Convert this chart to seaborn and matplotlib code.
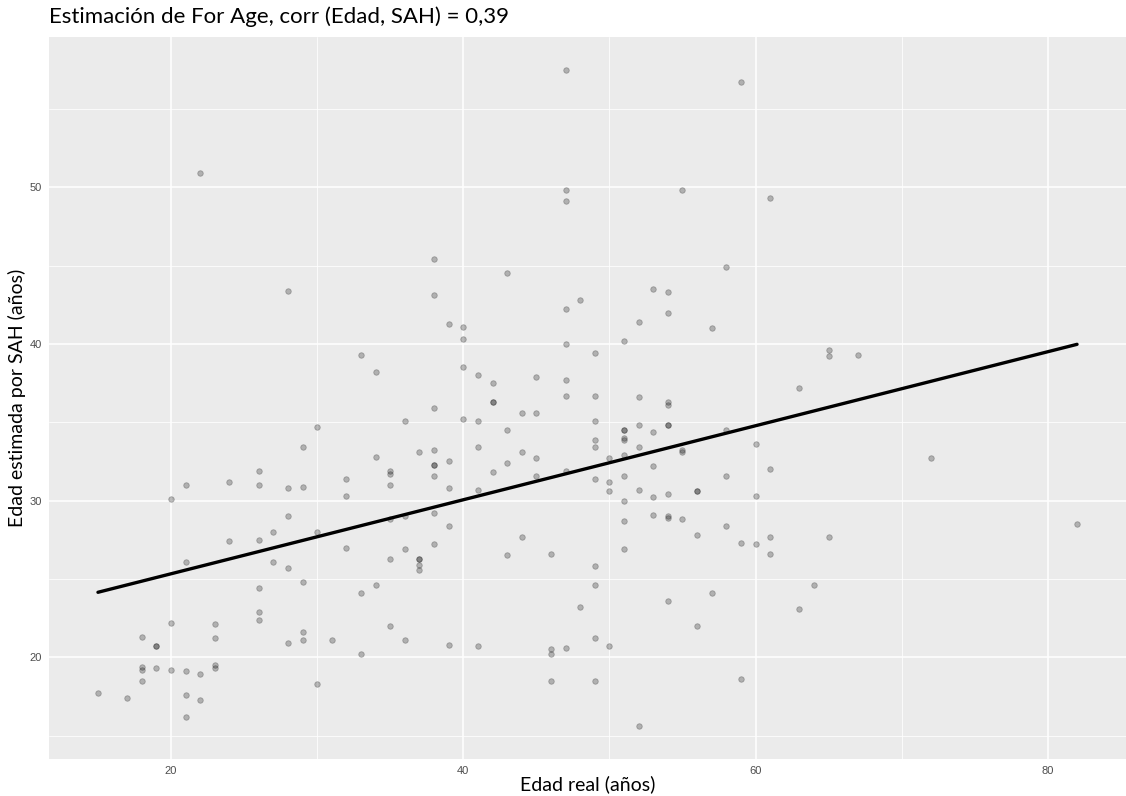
import matplotlib
matplotlib.use("Agg")
import pandas as pd
import matplotlib.pyplot as plt
import seaborn as sns
from matplotlib.ticker import MultipleLocator

# Edad real (años) and estimated age from SAH
edad_real = [
    30, 29, 26, 21, 24, 26, 28, 29, 20, 28, 27, 30, 24, 26, 21, 27, 28, 29, 26, 26,
    26, 20, 23, 18, 19, 19, 23, 29, 29, 28, 31, 18, 18, 19, 20, 21, 22, 23, 23, 18,
    30, 15, 17, 21, 22, 21,
    22, 28,
    38, 43, 38, 39, 40, 40, 33, 34, 40, 41, 42, 45, 42, 42, 44, 45, 38, 36, 40, 41,
    43, 34, 37, 38, 41, 44, 38, 38, 39, 43, 45, 35, 35, 38, 42, 45, 32,
    35, 39, 41, 32, 35, 36, 38, 39, 44, 32, 38, 36, 35, 37, 37, 37, 37, 43, 46, 34,
    33, 35, 36, 39, 41, 33, 46, 46, 46,
    58, 53, 54, 48, 47, 54, 52, 57, 51, 47, 49, 47, 47, 49, 52, 54, 54, 49, 51, 51,
    52, 54, 54, 53, 58, 49, 51, 51, 49, 52, 55, 55, 60, 50, 51, 53, 47, 49, 51, 58,
    61,
    50, 50, 52, 51, 53, 54, 56, 56, 60, 53, 54, 54, 55, 51, 58, 56, 59, 60, 61, 61,
    51, 49, 49, 57, 48, 54, 56, 49, 50, 47, 49, 59, 52,
    47, 59, 47, 47, 55, 61,
    65, 65, 67, 63, 72, 82, 65, 64, 63,
]
edad_sah = [
    34.7, 33.4, 31.9, 31.0, 31.2, 31.0, 30.8, 30.9, 30.1, 29.0, 28.0, 28.0, 27.4, 27.5,
    26.1, 26.1, 25.7, 24.8, 24.4, 22.9, 22.4, 22.2, 22.1, 21.3, 20.7, 20.7, 21.2, 21.6,
    21.1, 20.9, 21.1, 19.4, 19.2, 19.3, 19.2, 19.1, 18.9, 19.5, 19.3, 18.5, 18.3, 17.7,
    17.4, 17.6, 17.3, 16.2,
    50.9, 43.4,
    45.4, 44.5, 43.1, 41.3, 41.1, 40.3, 39.3, 38.2, 38.5, 38.0, 37.5, 37.9, 36.3, 36.3,
    35.6, 35.6, 35.9, 35.1, 35.2, 35.1, 34.5, 32.8, 33.1, 33.2, 33.4, 33.1, 32.3, 32.3,
    32.5, 32.4, 32.7, 31.9, 31.7, 31.6, 31.8, 31.6, 31.4,
    31.0, 30.8, 30.7, 30.3, 28.8, 29.0, 29.2, 28.4, 27.7, 27.0, 27.2, 26.9, 26.3, 26.3,
    26.3, 25.9, 25.6, 26.5, 26.6, 24.6, 24.1, 22.0, 21.1, 20.8, 20.7, 20.2, 20.5, 20.2,
    18.5,
    44.9, 43.5, 43.3, 42.8, 42.2, 42.0, 41.4, 41.0, 40.2, 40.0, 39.4, 37.7, 36.7, 36.7,
    36.6, 36.3, 36.1, 35.1, 34.5, 34.5, 34.8, 34.8, 34.8, 34.4, 34.5, 33.9, 34.0, 33.9,
    33.4, 33.4, 33.2, 33.1, 33.6, 32.7, 32.9, 32.2, 31.9, 31.4, 31.6, 31.6, 32.0,
    31.2, 30.6, 30.7, 30.0, 30.2, 30.4, 30.6, 30.6, 30.3, 29.1, 29.0, 28.9, 28.8, 28.7,
    28.4, 27.8, 27.3, 27.2, 27.7, 26.6, 26.9, 25.8, 24.6, 24.1, 23.2, 23.6, 22.0, 21.2,
    20.7, 20.6, 18.5, 18.6, 15.6,
    57.5, 56.7, 49.8, 49.1, 49.8, 49.3,
    39.6, 39.2, 39.3, 37.2, 32.7, 28.5, 27.7, 24.6, 23.1,
]

df = pd.DataFrame({"edad": edad_real, "sah": edad_sah})

sns.set_theme(style="darkgrid")
plt.rcParams["font.family"] = ["Lato", "DejaVu Sans"]

fig = plt.figure(figsize=(11.26, 7.96), dpi=100)
ax = fig.add_axes([49 / 1126, 37 / 796, 1077 / 1126, 722 / 796])
ax.set_facecolor("#EBEBEB")

sns.scatterplot(data=df, x="edad", y="sah", ax=ax, color="black", alpha=0.25,
                s=16, edgecolor="black", linewidth=0.6, zorder=3)
sns.regplot(data=df, x="edad", y="sah", ax=ax, scatter=False, ci=None,
            color="black", line_kws={"linewidth": 2.4, "zorder": 4})

# ggplot-like 5% expansion
xspan = df["edad"].max() - df["edad"].min()
yspan = df["sah"].max() - df["sah"].min()
ax.set_xlim(df["edad"].min() - 0.05 * xspan, df["edad"].max() + 0.05 * xspan)
ax.set_ylim(df["sah"].min() - 0.05 * yspan, df["sah"].max() + 0.05 * yspan)

ax.xaxis.set_major_locator(MultipleLocator(20))
ax.xaxis.set_minor_locator(MultipleLocator(10))
ax.yaxis.set_major_locator(MultipleLocator(10))
ax.yaxis.set_minor_locator(MultipleLocator(5))
ax.grid(which="major", color="white", linewidth=1.1)
ax.grid(which="minor", color="white", linewidth=0.55)
ax.set_axisbelow(True)
for s in ax.spines.values():
    s.set_visible(False)

ax.tick_params(which="major", length=3, width=0.8, color="#333333",
               labelsize=8, labelcolor="#4D4D4D", pad=2)
ax.tick_params(which="minor", length=0)
for lab in ax.get_xticklabels() + ax.get_yticklabels():
    lab.set_family("Liberation Sans")

ax.set_xlabel("")
ax.set_ylabel("")

panel_mid_x = (49 + 1126) / 2 / 1126
fig.text(49 / 1126, 1 - 17 / 796, "Estimación de For Age, corr (Edad, SAH) = 0,39",
         ha="left", va="center", fontsize=16, color="black")
fig.text(panel_mid_x, 1 - 784 / 796, "Edad real (años)",
         ha="center", va="center", fontsize=14, color="black")
fig.text(17 / 1126, 1 - 398 / 796, "Edad estimada por SAH (años)",
         ha="center", va="center", rotation=90, fontsize=14, color="black")

fig.savefig("out.png", dpi=100)
